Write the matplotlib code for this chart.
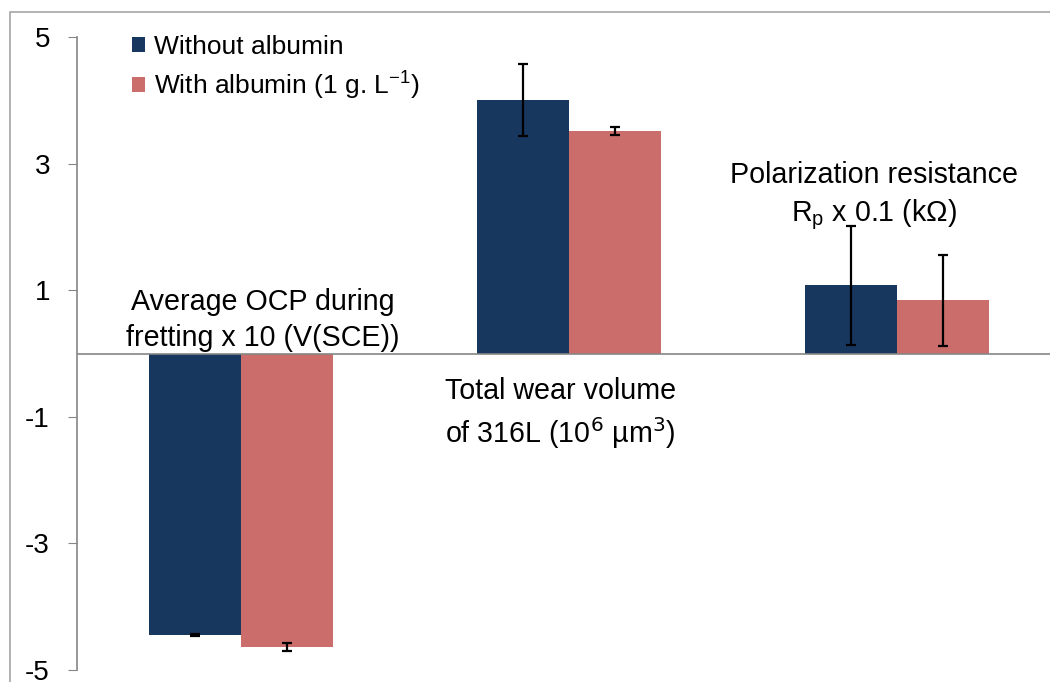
import numpy as np
import matplotlib
matplotlib.use("Agg")
import matplotlib.pyplot as plt
from matplotlib.patches import Rectangle

plt.rcParams['font.family'] = ['Liberation Sans', 'DejaVu Sans']

# data
groups = ['Average OCP during\nfretting x 10 (V(SCE))',
          'Total wear volume\nof 316L (10$^6$ µm$^3$)',
          'Polarization resistance\nR$_\\mathregular{p}$ x 0.1 (kΩ)']
without_alb = [-4.45, 4.00, 1.08]
without_err = [0.02, 0.57, 0.94]
with_alb = [-4.64, 3.51, 0.84]
with_err = [0.06, 0.065, 0.72]
yticks = [-5, -3, -1, 1, 3, 5]

blue = '#17375e'
pink = '#cb6d6a'
grey = '#868686'

fig = plt.figure(figsize=(10.5, 6.82), dpi=100)
ax = fig.add_axes([77/1050, 12/682, (1061-77)/1050, (670-37)/682])

x = np.arange(len(groups))
w = 0.282
ekw = dict(ecolor='black', elinewidth=1.6, capsize=3.5, capthick=1.6)
b1 = ax.bar(x - w/2, without_alb, w, color=blue, label='Without albumin',
            yerr=without_err, error_kw=ekw)
b2 = ax.bar(x + w/2, with_alb, w, color=pink, label='With albumin (1 g. L$^{\\mathregular{-1}}$)',
            yerr=with_err, error_kw=ekw)

ax.set_xlim(-0.5, 2.5)
ax.set_ylim(-5, 5)
ax.set_yticks(yticks)
ax.set_yticklabels([str(t) for t in yticks])
ax.tick_params(axis='y', direction='out', length=6.5, color=grey, labelsize=20, pad=13)
ax.set_xticks([])
for s in ['top', 'right', 'bottom']:
    ax.spines[s].set_visible(False)
ax.spines['left'].set_color(grey)
ax.spines['left'].set_linewidth(1.2)
ax.axhline(0, color=grey, lw=1.2, zorder=3)

# category labels placed like the original
label_pos = [(0.067, 0.53), (0.973, -0.95), (1.93, 2.48)]
for (gx, gy), txt in zip(label_pos, groups):
    ax.text(gx, gy, txt, ha='center', va='center', fontsize=20.6, linespacing=1.37)

leg = ax.legend(handles=[b1, b2], loc='upper left', bbox_to_anchor=(132/1050, 1 - 35/682),
                bbox_transform=fig.transFigure, frameon=False, fontsize=19,
                handlelength=0.5, handleheight=0.5, handletextpad=0.35,
                labelspacing=0.35, borderpad=0, borderaxespad=0)

# outer chart frame
fig.patches.append(Rectangle((10/1050, -0.1), 1.2, 1 - 12/682 + 0.1, transform=fig.transFigure,
                             fill=False, edgecolor='#a6a6a6', lw=1.2))

fig.savefig('out.png', dpi=100)
